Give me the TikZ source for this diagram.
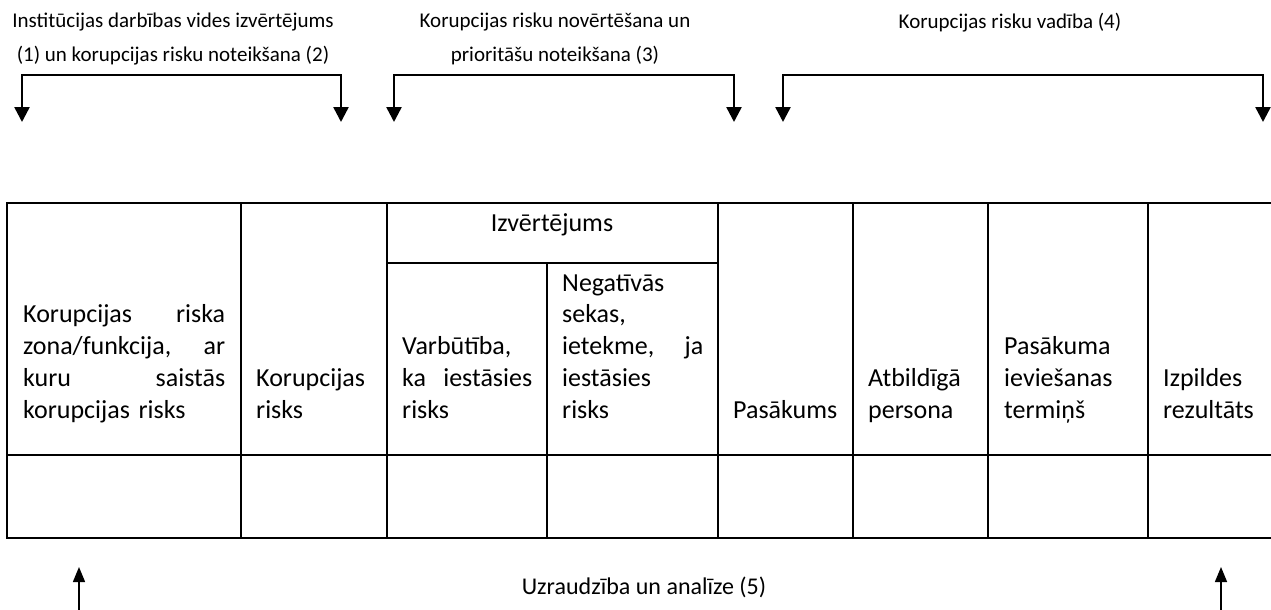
\documentclass[tikz,border=0pt]{standalone}
\usepackage{fontspec}
\setmainfont{Carlito}
\usetikzlibrary{arrows.meta}

\begin{document}
\begin{tikzpicture}[
            x=1pt, y=-1pt,
            every node/.style={inner sep=0pt, text depth=0pt},
            celltext/.style={font=\fontsize{26}{31.7}\selectfont, anchor=base west, align=left, text width=#1},
            stagetext/.style={font=\fontsize{21}{34}\selectfont, anchor=south, align=center},
            gridline/.style={line width=2.4pt},
            bracket/.style={draw, line width=2.5pt, {Triangle[length=15pt,width=15pt]}-{Triangle[length=15pt,width=15pt]}},
            monitor/.style={draw, line width=1.5pt, -{Triangle[length=15pt,width=12pt]}}
        ]
    \useasboundingbox (0,0) rectangle (1271,610);

    % Stage labels
    \node[stagetext] (Environment) at (173,62) {Institūcijas darbības vides izvērtējums\\ (1) un korupcijas risku noteikšana (2)};
    \node[stagetext] (Assessment) at (555,62) {Korupcijas risku novērtēšana un\\ prioritāšu noteikšana (3)};
    \node[stagetext] (Management) at (1010,29) {Korupcijas risku vadība (4)};
    \node[stagetext, font=\fontsize{24}{34}\selectfont] (Monitoring) at (644,595) {Uzraudzība un analīze (5)};

    % Bracket ends
    \coordinate (EnvLeft) at (22,122);
    \coordinate (EnvTop) at (180,75);
    \coordinate (EnvRight) at (341,122);
    \coordinate (AssLeft) at (394,122);
    \coordinate (AssTop) at (560,75);
    \coordinate (AssRight) at (734,122);
    \coordinate (ManLeft) at (783,122);
    \coordinate (ManTop) at (1020,75);
    \coordinate (ManRight) at (1263,122);
    \coordinate (MonLeftFoot) at (79,612);
    \coordinate (MonLeftTip) at (79,567);
    \coordinate (MonRightFoot) at (1221,612);
    \coordinate (MonRightTip) at (1221,567);

    \draw[bracket] (EnvLeft) |- (EnvTop) -| (EnvRight);
    \draw[bracket] (AssLeft) |- (AssTop) -| (AssRight);
    \draw[bracket] (ManLeft) |- (ManTop) -| (ManRight);
    \draw[monitor] (MonLeftFoot) -- (MonLeftTip);
    \draw[monitor] (MonRightFoot) -- (MonRightTip);

    % Table grid
    \draw[gridline] (7,203) rectangle (1273,538);
    \draw[gridline] (7,455) -- (1273,455);
    \draw[gridline] (387,263) -- (718,263);
    \foreach \x in {241,387,718,853,988,1148}
        \draw[gridline] (\x,203) -- (\x,538);
    \draw[gridline] (547,263) -- (547,538);

    % Header cells (first baselines, 31.7pt apart, last one at 418)
    \node[stagetext, font=\fontsize{26}{31.7}\selectfont] (Evaluation) at (552,232) {Izvērtējums};
    \node[celltext=202pt] (RiskZone) at (23,322.9) {Korupcijas\hfill riska\\ zona/funkcija,\hfill ar\\ kuru\hfill saistās\\ korupcijas risks};
    \node[celltext=115pt] (Risk) at (256,386.3) {Korupcijas\\ risks};
    \node[celltext=130pt] (Likelihood) at (402,354.6) {Varbūtība,\\ ka\hfill iestāsies\\ risks};
    \node[celltext=141pt] (Impact) at (562,291.2) {Negatīvās\\ sekas,\\ ietekme,\hfill ja\\ iestāsies\\ risks};
    \node[celltext=115pt] (Measure) at (733,418) {Pasākums};
    \node[celltext=115pt] (Person) at (868,386.3) {Atbildīgā\\ persona};
    \node[celltext=135pt] (Deadline) at (1004,354.6) {Pasākuma\\ ieviešanas\\ termiņš};
    \node[celltext=105pt] (Result) at (1163,386.3) {Izpildes\\ rezultāts};

\end{tikzpicture}
\end{document}
